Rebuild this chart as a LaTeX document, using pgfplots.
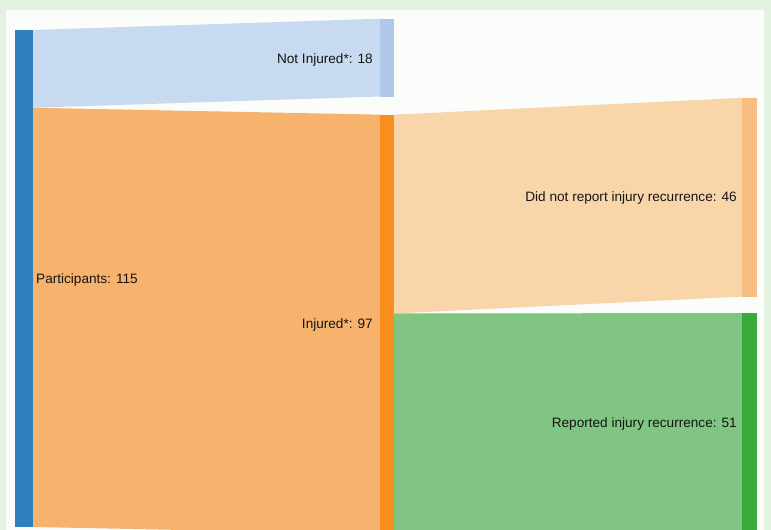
\documentclass[border=0pt]{standalone}
\usepackage{pgfplots}
\pgfplotsset{compat=1.18}
\usepackage{fontspec}
\setmainfont{Liberation Sans}
\definecolor{outerbg}{HTML}{E4F2E2}
\definecolor{panel}{HTML}{FBFDFB}
\definecolor{partbar}{HTML}{2F7FC1}
\definecolor{nibar}{HTML}{B0C8E8}
\definecolor{niflow}{HTML}{C8DAF0}
\definecolor{injbar}{HTML}{F98E1D}
\definecolor{injflow}{HTML}{F7B26E}
\definecolor{dnbar}{HTML}{F8BD80}
\definecolor{dnflow}{HTML}{F9D6AA}
\definecolor{repbar}{HTML}{3AAA3A}
\definecolor{repflow}{HTML}{80C682}
\tikzset{lbl/.style={font=\fontsize{13.6bp}{16bp}\selectfont, text=black!92, inner sep=0pt}}
\begin{document}
\begin{tikzpicture}
\begin{axis}[
  width=771bp, height=530bp, scale only axis,
  xmin=0, xmax=771, ymin=-0.694, ymax=121.93,
  hide axis, clip=true,
]
% background
\fill[outerbg] (axis cs:0,-0.694) rectangle (axis cs:771,121.93);
\fill[panel] (axis cs:6,-0.694) rectangle (axis cs:764,119.62);
% flows (y in participant counts)
\addplot[fill=niflow, draw=none] coordinates {(33,115) (380,117.6) (380,99.6) (33,97)} -- cycle;
\addplot[fill=injflow, draw=none] coordinates {(33,97) (380,95.4) (380,-1.6) (33,0)} -- cycle;
\addplot[fill=dnflow, draw=none] coordinates {(394,95.4) (742,99.3) (742,53.3) (394,49.4)} -- cycle;
\addplot[fill=repflow, draw=none] coordinates {(394,49.4) (742,49.5) (742,-1.5) (394,-1.6)} -- cycle;
% nodes
\addplot[fill=partbar, draw=none] coordinates {(15,115) (33,115) (33,0) (15,0)} -- cycle;
\addplot[fill=nibar, draw=none] coordinates {(380,117.6) (394,117.6) (394,99.6) (380,99.6)} -- cycle;
\addplot[fill=injbar, draw=none] coordinates {(380,95.4) (394,95.4) (394,-1.6) (380,-1.6)} -- cycle;
\addplot[fill=dnbar, draw=none] coordinates {(742,99.3) (757,99.3) (757,53.3) (742,53.3)} -- cycle;
\addplot[fill=repbar, draw=none] coordinates {(742,49.5) (757,49.5) (757,-1.5) (742,-1.5)} -- cycle;
% labels
\node[lbl, anchor=east] at (axis cs:373,108.05) {Not Injured*: 18};
\node[lbl, anchor=west] at (axis cs:36,57.15) {Participants: 115};
\node[lbl, anchor=east] at (axis cs:737,76.1) {Did not report injury recurrence: 46};
\node[lbl, anchor=east] at (axis cs:373,46.7) {Injured*: 97};
\node[lbl, anchor=east] at (axis cs:737,23.8) {Reported injury recurrence: 51};
\end{axis}
\end{tikzpicture}
\end{document}
